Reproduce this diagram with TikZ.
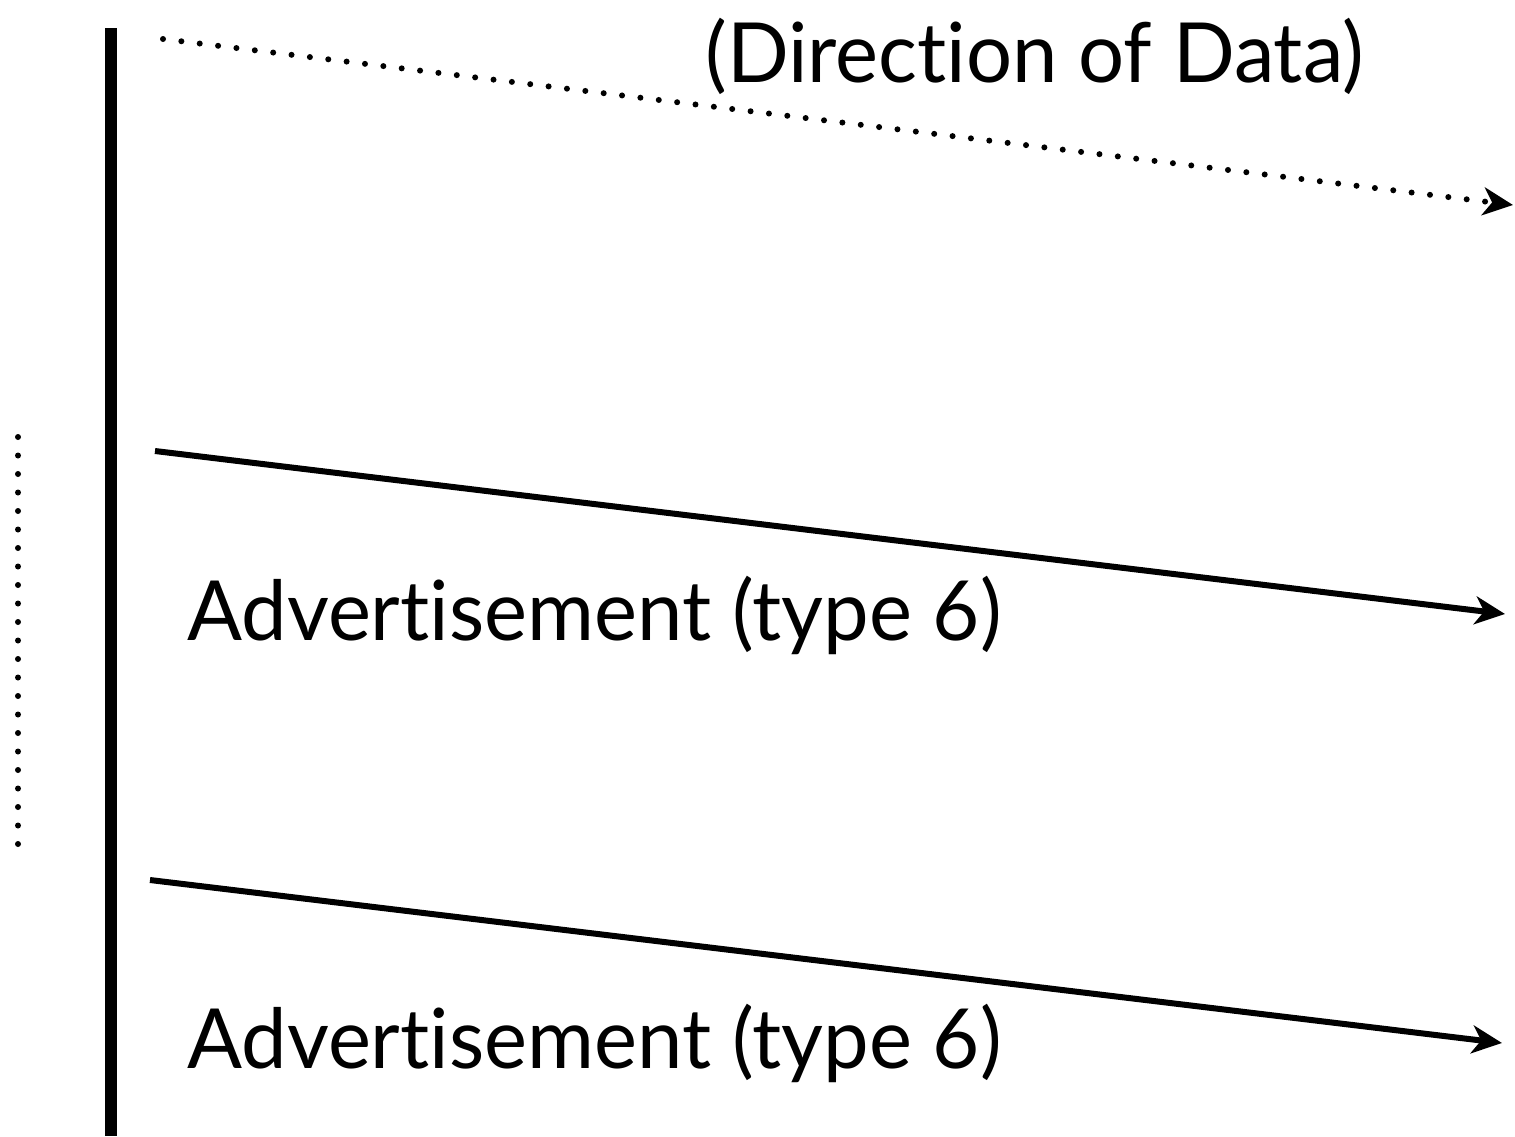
\documentclass[tikz,border=0pt]{standalone}
\usepackage{fontspec}
\setmainfont{Lato}[Ligatures=NoCommon,FakeStretch=0.98]
\usetikzlibrary{arrows.meta}
\begin{document}
\begin{tikzpicture}[x=0.5pt,y=-0.5pt,
  tip/.style={-{Stealth[length=15pt,width=14pt,inset=4.5pt]}},
  msgline/.style={line width=3pt,tip},
  dotline/.style={line width=3pt,line cap=round,dash pattern=on 0pt off 9.25pt},
  label/.style={font=\fontsize{41.5}{50}\selectfont,inner sep=0pt}]
\useasboundingbox (0,0) rectangle (1515,1136);
% time axis of the sender
\coordinate (axtop) at (111,28);
\coordinate (axbot) at (111,1136);
\draw[line width=6pt] (axtop) -- (axbot);
% left dotted gap marker
\coordinate (gaptop) at (18,437);
\coordinate (gapbot) at (18,855);
\draw[dotline] (gaptop) -- (gapbot);
% direction of data
\coordinate (d0) at (163,39);
\coordinate (d1) at (1513,205);
\draw[dotline,tip] (d0) -- (d1);
\node[label,anchor=base west] (dir) at (705,82) {(Direction of Data)};
% advertisements
\coordinate (a0) at (155,451);
\coordinate (a1) at (1505,614);
\draw[msgline] (a0) -- (a1);
\node[label,anchor=base west] (adv1) at (187,640) {Advertisement (type 6)};
\coordinate (b0) at (150,880);
\coordinate (b1) at (1502,1043);
\draw[msgline] (b0) -- (b1);
\node[label,anchor=base west] (adv2) at (187,1068) {Advertisement (type 6)};
\end{tikzpicture}
\end{document}
